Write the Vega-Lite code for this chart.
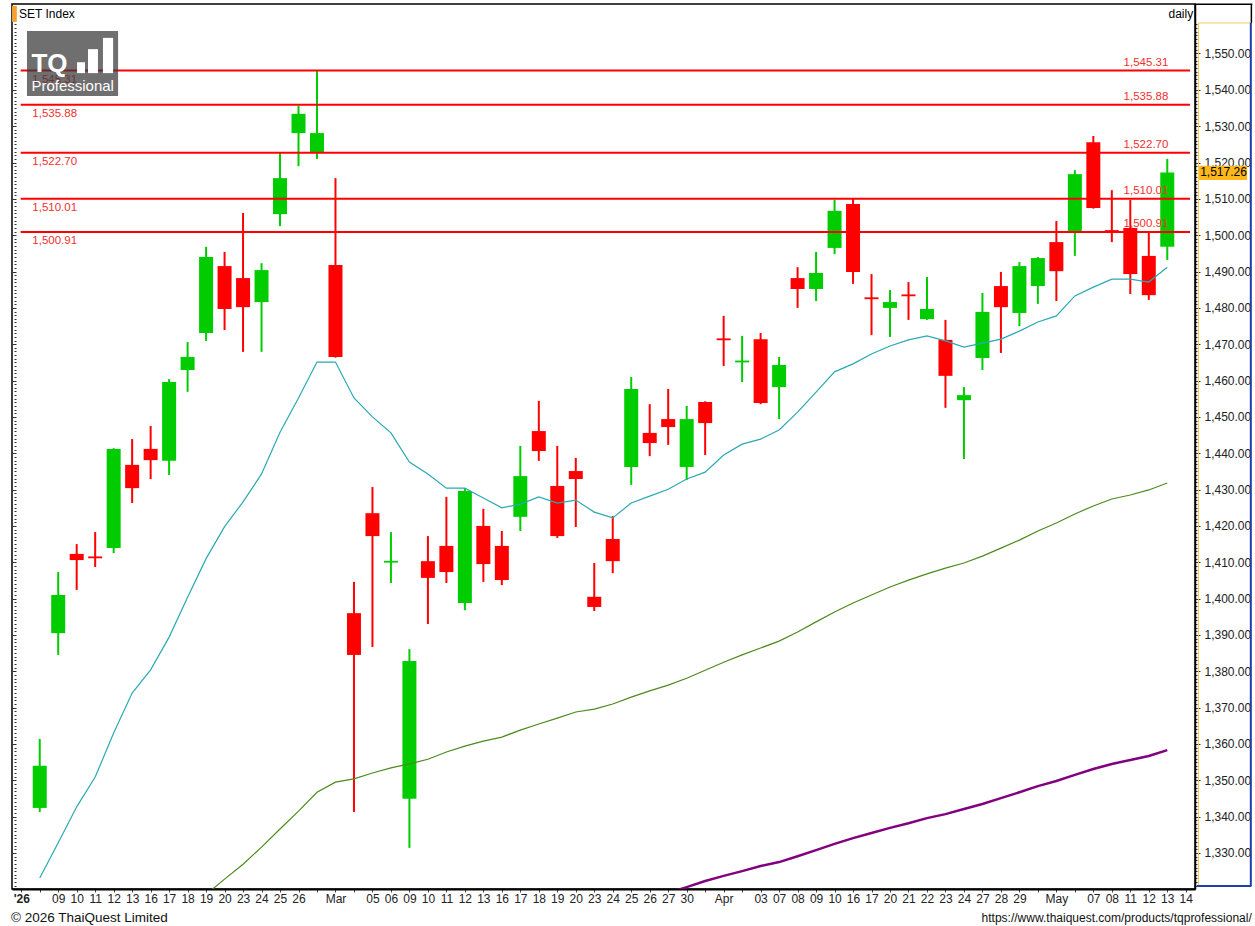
{
"$schema": "https://vega.github.io/schema/vega-lite/v6.json",
"width": 1183, "height": 885, "autosize": "none",
"padding": {"left": 12, "top": 4, "right": 60, "bottom": 37},
"background": "#ffffff",
"config": {"font": "Liberation Sans", "view": {"stroke": "#000000", "strokeWidth": 1.5}},
"datasets": {
"candles": [
{"i":1,"date":"2026-02-06","o":1342.4,"h":1361.4,"l":1341.3,"c":1354.0,"ema":1323.1},
{"i":2,"date":"2026-02-09","o":1390.5,"h":1407.3,"l":1384.5,"c":1401.0,"ema":1332.8},
{"i":3,"date":"2026-02-10","o":1412.3,"h":1415.0,"l":1402.4,"c":1410.6,"ema":1342.7},
{"i":4,"date":"2026-02-11","o":1411.6,"h":1418.3,"l":1408.7,"c":1411.1,"ema":1350.9},
{"i":5,"date":"2026-02-12","o":1413.9,"h":1441.4,"l":1412.5,"c":1441.2,"ema":1363.0},
{"i":6,"date":"2026-02-13","o":1436.8,"h":1443.9,"l":1426.3,"c":1430.4,"ema":1374.0},
{"i":7,"date":"2026-02-16","o":1441.2,"h":1447.5,"l":1432.9,"c":1438.1,"ema":1380.4},
{"i":8,"date":"2026-02-17","o":1437.9,"h":1460.4,"l":1434.0,"c":1459.6,"ema":1389.4},
{"i":9,"date":"2026-02-18","o":1462.9,"h":1470.6,"l":1456.9,"c":1466.5,"ema":1400.4},
{"i":10,"date":"2026-02-19","o":1473.1,"h":1496.8,"l":1470.9,"c":1494.0,"ema":1411.0,"ma50":1318.6},
{"i":11,"date":"2026-02-20","o":1491.5,"h":1495.4,"l":1473.9,"c":1479.7,"ema":1419.8,"ma50":1322.8},
{"i":12,"date":"2026-02-23","o":1488.2,"h":1506.1,"l":1467.9,"c":1480.2,"ema":1426.6,"ma50":1326.9},
{"i":13,"date":"2026-02-24","o":1481.6,"h":1492.3,"l":1467.9,"c":1490.4,"ema":1434.3,"ma50":1331.6},
{"i":14,"date":"2026-02-25","o":1505.8,"h":1522.6,"l":1502.5,"c":1515.7,"ema":1445.8,"ma50":1336.6},
{"i":15,"date":"2026-02-26","o":1528.1,"h":1535.6,"l":1519.0,"c":1533.4,"ema":1455.2,"ma50":1341.5},
{"i":16,"date":"2026-02-27","o":1522.9,"h":1545.3,"l":1521.0,"c":1528.1,"ema":1465.1,"ma50":1346.7},
{"i":17,"date":"2026-03-02","o":1491.8,"h":1515.7,"l":1466.3,"c":1466.5,"ema":1465.1,"ma50":1349.5},
{"i":18,"date":"2026-03-04","o":1396.0,"h":1404.6,"l":1341.3,"c":1384.5,"ema":1455.2,"ma50":1350.4},
{"i":19,"date":"2026-03-05","o":1423.5,"h":1430.7,"l":1386.7,"c":1417.2,"ema":1450.0,"ma50":1352.0},
{"i":20,"date":"2026-03-06","o":1409.9,"h":1418.3,"l":1404.3,"c":1410.4,"ema":1445.6,"ma50":1353.4},
{"i":21,"date":"2026-03-09","o":1344.9,"h":1386.1,"l":1331.4,"c":1382.8,"ema":1437.6,"ma50":1354.5},
{"i":22,"date":"2026-03-10","o":1410.3,"h":1417.2,"l":1393.0,"c":1405.7,"ema":1434.3,"ma50":1355.8},
{"i":23,"date":"2026-03-11","o":1414.5,"h":1428.0,"l":1404.3,"c":1407.3,"ema":1430.4,"ma50":1357.8},
{"i":24,"date":"2026-03-12","o":1398.8,"h":1430.4,"l":1396.8,"c":1429.6,"ema":1430.4,"ma50":1359.4},
{"i":25,"date":"2026-03-13","o":1420.0,"h":1424.7,"l":1404.6,"c":1409.5,"ema":1427.7,"ma50":1360.8},
{"i":26,"date":"2026-03-16","o":1414.5,"h":1418.6,"l":1403.7,"c":1405.1,"ema":1425.0,"ma50":1361.9},
{"i":27,"date":"2026-03-17","o":1422.5,"h":1442.0,"l":1418.6,"c":1433.7,"ema":1426.0,"ma50":1363.8},
{"i":28,"date":"2026-03-18","o":1446.1,"h":1454.4,"l":1437.9,"c":1440.6,"ema":1428.0,"ma50":1365.5},
{"i":29,"date":"2026-03-19","o":1431.0,"h":1442.0,"l":1416.7,"c":1417.2,"ema":1426.3,"ma50":1367.1},
{"i":30,"date":"2026-03-20","o":1435.1,"h":1438.7,"l":1419.7,"c":1432.9,"ema":1427.1,"ma50":1368.8},
{"i":31,"date":"2026-03-23","o":1400.5,"h":1409.8,"l":1396.6,"c":1397.7,"ema":1423.8,"ma50":1369.6},
{"i":32,"date":"2026-03-24","o":1416.4,"h":1422.7,"l":1407.0,"c":1410.3,"ema":1422.2,"ma50":1371.0},
{"i":33,"date":"2026-03-25","o":1436.2,"h":1461.0,"l":1431.3,"c":1457.7,"ema":1426.3,"ma50":1372.9},
{"i":34,"date":"2026-03-26","o":1445.6,"h":1453.5,"l":1439.2,"c":1442.8,"ema":1428.2,"ma50":1374.6},
{"i":35,"date":"2026-03-27","o":1449.4,"h":1457.7,"l":1442.3,"c":1447.2,"ema":1430.1,"ma50":1376.2,"ma200":1319.0},
{"i":36,"date":"2026-03-30","o":1436.2,"h":1453.0,"l":1432.6,"c":1449.4,"ema":1432.9,"ma50":1378.1,"ma200":1320.6},
{"i":37,"date":"2026-03-31","o":1454.1,"h":1454.3,"l":1439.5,"c":1448.3,"ema":1434.8,"ma50":1380.3,"ma200":1322.3},
{"i":38,"date":"2026-04-01","o":1471.6,"h":1477.8,"l":1464.0,"c":1471.1,"ema":1439.5,"ma50":1382.5,"ma200":1323.7},
{"i":39,"date":"2026-04-02","o":1465.0,"h":1472.3,"l":1459.6,"c":1465.5,"ema":1442.5,"ma50":1384.5,"ma200":1325.0},
{"i":40,"date":"2026-04-03","o":1471.4,"h":1473.1,"l":1453.5,"c":1453.8,"ema":1443.9,"ma50":1386.4,"ma200":1326.4},
{"i":41,"date":"2026-04-07","o":1458.2,"h":1466.5,"l":1449.4,"c":1464.3,"ema":1446.4,"ma50":1388.3,"ma200":1327.5},
{"i":42,"date":"2026-04-08","o":1488.2,"h":1491.2,"l":1480.0,"c":1485.2,"ema":1451.3,"ma50":1390.8,"ma200":1329.1},
{"i":43,"date":"2026-04-09","o":1485.2,"h":1495.4,"l":1481.9,"c":1489.6,"ema":1456.8,"ma50":1393.6,"ma200":1330.8},
{"i":44,"date":"2026-04-10","o":1496.5,"h":1509.7,"l":1494.8,"c":1506.7,"ema":1462.4,"ma50":1396.3,"ma200":1332.5},
{"i":45,"date":"2026-04-16","o":1508.6,"h":1510.0,"l":1486.6,"c":1489.9,"ema":1464.6,"ma50":1398.8,"ma200":1334.1},
{"i":46,"date":"2026-04-17","o":1482.9,"h":1489.3,"l":1472.5,"c":1482.4,"ema":1467.3,"ma50":1401.0,"ma200":1335.5},
{"i":47,"date":"2026-04-20","o":1480.0,"h":1484.9,"l":1472.0,"c":1481.6,"ema":1469.5,"ma50":1403.2,"ma200":1336.9},
{"i":48,"date":"2026-04-21","o":1483.7,"h":1487.1,"l":1476.7,"c":1483.2,"ema":1471.2,"ma50":1405.1,"ma200":1338.2},
{"i":49,"date":"2026-04-22","o":1476.9,"h":1488.5,"l":1476.7,"c":1479.7,"ema":1472.3,"ma50":1406.8,"ma200":1339.6},
{"i":50,"date":"2026-04-23","o":1471.2,"h":1476.7,"l":1452.5,"c":1461.3,"ema":1470.9,"ma50":1408.4,"ma200":1340.7},
{"i":51,"date":"2026-04-24","o":1454.6,"h":1458.2,"l":1438.4,"c":1456.0,"ema":1469.2,"ma50":1409.8,"ma200":1342.1},
{"i":52,"date":"2026-04-27","o":1466.2,"h":1484.1,"l":1462.9,"c":1478.9,"ema":1470.3,"ma50":1411.7,"ma200":1343.5},
{"i":53,"date":"2026-04-28","o":1486.0,"h":1489.9,"l":1467.6,"c":1480.2,"ema":1471.4,"ma50":1413.9,"ma200":1345.1},
{"i":54,"date":"2026-04-29","o":1478.6,"h":1492.6,"l":1475.0,"c":1491.5,"ema":1473.6,"ma50":1416.1,"ma200":1346.7},
{"i":55,"date":"2026-04-30","o":1486.0,"h":1494.0,"l":1481.1,"c":1493.7,"ema":1476.1,"ma50":1418.6,"ma200":1348.4},
{"i":56,"date":"2026-05-05","o":1498.1,"h":1503.9,"l":1481.9,"c":1490.1,"ema":1477.8,"ma50":1420.8,"ma200":1349.8},
{"i":57,"date":"2026-05-06","o":1500.9,"h":1517.9,"l":1494.3,"c":1516.8,"ema":1483.3,"ma50":1423.3,"ma200":1351.5},
{"i":58,"date":"2026-05-07","o":1525.6,"h":1527.3,"l":1507.3,"c":1507.5,"ema":1485.7,"ma50":1425.5,"ma200":1353.1},
{"i":59,"date":"2026-05-08","o":1501.4,"h":1512.4,"l":1498.1,"c":1500.9,"ema":1487.9,"ma50":1427.4,"ma200":1354.5},
{"i":60,"date":"2026-05-11","o":1502.0,"h":1509.7,"l":1483.8,"c":1489.3,"ema":1487.9,"ma50":1428.5,"ma200":1355.6},
{"i":61,"date":"2026-05-12","o":1494.3,"h":1500.6,"l":1482.2,"c":1483.5,"ema":1487.1,"ma50":1429.9,"ma200":1356.7},
{"i":62,"date":"2026-05-13","o":1496.8,"h":1521.0,"l":1493.2,"c":1517.26,"ema":1491.2,"ma50":1431.8,"ma200":1358.3}
],
"levels": [{"level":1545.31},{"level":1535.88},{"level":1522.70},{"level":1510.01},{"level":1500.91}]
},
"resolve": {"axis": {"x": "independent", "y": "independent"}},
"layer": [
{"data": {"name": "candles"},
 "mark": {"type": "rule", "strokeWidth": 2},
 "encoding": {
  "x": {"field": "i", "type": "quantitative", "scale": {"domain": [-0.5, 63.5], "nice": false, "zero": false, "padding": 0},
        "axis": {"orient": "bottom", "title": null, "grid": false,
          "values": [0,1,2,3,4,5,6,7,8,9,10,11,12,13,14,15,16,17,18,19,20,21,22,23,24,25,26,27,28,29,30,31,32,33,34,35,36,37,38,39,40,41,42,43,44,45,46,47,48,49,50,51,52,53,54,55,56,57,58,59,60,61,62,63],
          "labelExpr": "datum.value==0?'\\'26':datum.value==2?'09':datum.value==3?'10':datum.value==4?'11':datum.value==5?'12':datum.value==6?'13':datum.value==7?'16':datum.value==8?'17':datum.value==9?'18':datum.value==10?'19':datum.value==11?'20':datum.value==12?'23':datum.value==13?'24':datum.value==14?'25':datum.value==15?'26':datum.value==17?'Mar':datum.value==19?'05':datum.value==20?'06':datum.value==21?'09':datum.value==22?'10':datum.value==23?'11':datum.value==24?'12':datum.value==25?'13':datum.value==26?'16':datum.value==27?'17':datum.value==28?'18':datum.value==29?'19':datum.value==30?'20':datum.value==31?'23':datum.value==32?'24':datum.value==33?'25':datum.value==34?'26':datum.value==35?'27':datum.value==36?'30':datum.value==38?'Apr':datum.value==40?'03':datum.value==41?'07':datum.value==42?'08':datum.value==43?'09':datum.value==44?'10':datum.value==45?'16':datum.value==46?'17':datum.value==47?'20':datum.value==48?'21':datum.value==49?'22':datum.value==50?'23':datum.value==51?'24':datum.value==52?'27':datum.value==53?'28':datum.value==54?'29':datum.value==56?'May':datum.value==58?'07':datum.value==59?'08':datum.value==60?'11':datum.value==61?'12':datum.value==62?'13':datum.value==63?'14':''",
          "labelFontWeight": {"condition": {"test": "datum.value === 0", "value": "bold"}, "value": "normal"},
          "domain": true, "domainColor": "#000000", "domainWidth": 2,
          "ticks": true, "tickColor": "#444444", "tickSize": 3, "tickWidth": 1,
          "labelFontSize": 12, "labelColor": "#222222", "labelPadding": 1,
          "labelOverlap": false, "labelBound": false, "labelFlush": false}},
  "y": {"field": "l", "type": "quantitative", "scale": {"domain": [1320.09, 1563.62], "nice": false, "zero": false, "padding": 0},
        "axis": {"orient": "right", "title": null, "grid": false,
          "values": [1321,1322,1323,1324,1325,1326,1327,1328,1329,1330,1331,1332,1333,1334,1335,1336,1337,1338,1339,1340,1341,1342,1343,1344,1345,1346,1347,1348,1349,1350,1351,1352,1353,1354,1355,1356,1357,1358,1359,1360,1361,1362,1363,1364,1365,1366,1367,1368,1369,1370,1371,1372,1373,1374,1375,1376,1377,1378,1379,1380,1381,1382,1383,1384,1385,1386,1387,1388,1389,1390,1391,1392,1393,1394,1395,1396,1397,1398,1399,1400,1401,1402,1403,1404,1405,1406,1407,1408,1409,1410,1411,1412,1413,1414,1415,1416,1417,1418,1419,1420,1421,1422,1423,1424,1425,1426,1427,1428,1429,1430,1431,1432,1433,1434,1435,1436,1437,1438,1439,1440,1441,1442,1443,1444,1445,1446,1447,1448,1449,1450,1451,1452,1453,1454,1455,1456,1457,1458,1459,1460,1461,1462,1463,1464,1465,1466,1467,1468,1469,1470,1471,1472,1473,1474,1475,1476,1477,1478,1479,1480,1481,1482,1483,1484,1485,1486,1487,1488,1489,1490,1491,1492,1493,1494,1495,1496,1497,1498,1499,1500,1501,1502,1503,1504,1505,1506,1507,1508,1509,1510,1511,1512,1513,1514,1515,1516,1517,1518,1519,1520,1521,1522,1523,1524,1525,1526,1527,1528,1529,1530,1531,1532,1533,1534,1535,1536,1537,1538,1539,1540,1541,1542,1543,1544,1545,1546,1547,1548,1549,1550,1551,1552,1553,1554,1555,1556,1557,1558],
          "labelExpr": "datum.value % 10 === 0 ? format(datum.value, ',.2f') : ''",
          "tickSize": {"condition": {"test": "datum.value % 10 === 0", "value": 5}, "value": 2},
          "tickColor": "#333333", "tickWidth": 1,
          "domain": true, "domainColor": "#000000", "domainWidth": 1.5,
          "labelFontSize": 12, "labelColor": "#222222", "labelPadding": 4,
          "labelOverlap": false, "labelBound": false, "labelFlush": false}},
  "y2": {"field": "h"},
  "color": {"condition": {"test": "datum.c >= datum.o", "value": "#00CC00"}, "value": "#FF0000"}
 }},
{"data": {"name": "candles"},
 "mark": {"type": "bar", "size": 14},
 "encoding": {
  "x": {"field": "i", "type": "quantitative", "axis": null},
  "y": {"field": "o", "type": "quantitative",
        "axis": {"orient": "left", "title": null, "grid": false, "labels": false, "domain": false, "offset": -4,
          "values": [1321,1322,1323,1324,1325,1326,1327,1328,1329,1330,1331,1332,1333,1334,1335,1336,1337,1338,1339,1340,1341,1342,1343,1344,1345,1346,1347,1348,1349,1350,1351,1352,1353,1354,1355,1356,1357,1358,1359,1360,1361,1362,1363,1364,1365,1366,1367,1368,1369,1370,1371,1372,1373,1374,1375,1376,1377,1378,1379,1380,1381,1382,1383,1384,1385,1386,1387,1388,1389,1390,1391,1392,1393,1394,1395,1396,1397,1398,1399,1400,1401,1402,1403,1404,1405,1406,1407,1408,1409,1410,1411,1412,1413,1414,1415,1416,1417,1418,1419,1420,1421,1422,1423,1424,1425,1426,1427,1428,1429,1430,1431,1432,1433,1434,1435,1436,1437,1438,1439,1440,1441,1442,1443,1444,1445,1446,1447,1448,1449,1450,1451,1452,1453,1454,1455,1456,1457,1458,1459,1460,1461,1462,1463,1464,1465,1466,1467,1468,1469,1470,1471,1472,1473,1474,1475,1476,1477,1478,1479,1480,1481,1482,1483,1484,1485,1486,1487,1488,1489,1490,1491,1492,1493,1494,1495,1496,1497,1498,1499,1500,1501,1502,1503,1504,1505,1506,1507,1508,1509,1510,1511,1512,1513,1514,1515,1516,1517,1518,1519,1520,1521,1522,1523,1524,1525,1526,1527,1528,1529,1530,1531,1532,1533,1534,1535,1536,1537,1538,1539,1540,1541,1542,1543,1544,1545,1546,1547,1548,1549,1550,1551,1552,1553,1554,1555,1556,1557,1558],
          "tickSize": {"condition": {"test": "datum.value % 10 === 0", "value": 4}, "value": 2},
          "tickColor": "#333333", "tickWidth": 1}},
  "y2": {"field": "c"},
  "color": {"condition": {"test": "datum.c >= datum.o", "value": "#00CC00"}, "value": "#FF0000"}
 }},
{"data": {"name": "candles"},
 "mark": {"type": "line", "color": "#2AA9B3", "strokeWidth": 1.2, "clip": true},
 "encoding": {"x": {"field": "i", "type": "quantitative", "axis": null}, "y": {"field": "ema", "type": "quantitative", "axis": null}}},
{"data": {"name": "candles"},
 "mark": {"type": "line", "color": "#4E8A1E", "strokeWidth": 1.2, "clip": true},
 "encoding": {"x": {"field": "i", "type": "quantitative", "axis": null}, "y": {"field": "ma50", "type": "quantitative", "axis": null}}},
{"data": {"name": "candles"},
 "mark": {"type": "line", "color": "#800080", "strokeWidth": 2.5, "clip": true},
 "encoding": {"x": {"field": "i", "type": "quantitative", "axis": null}, "y": {"field": "ma200", "type": "quantitative", "axis": null}}},
{"data": {"name": "levels"},
 "mark": {"type": "rule", "color": "#FF0000", "strokeWidth": 2},
 "encoding": {"x": {"datum": -0.03, "type": "quantitative", "axis": null}, "x2": {"datum": 63.23},
   "y": {"field": "level", "type": "quantitative", "axis": null}}},
{"data": {"name": "levels"},
 "mark": {"type": "text", "align": "left", "baseline": "middle", "dy": 9, "fontSize": 11.5, "color": "#F03030"},
 "encoding": {"x": {"datum": 0.6, "type": "quantitative", "axis": null},
   "y": {"field": "level", "type": "quantitative", "axis": null},
   "text": {"field": "level", "type": "quantitative", "format": ",.2f"}}},
{"data": {"name": "levels"},
 "mark": {"type": "text", "align": "right", "baseline": "middle", "dy": -8, "fontSize": 11.5, "color": "#F03030"},
 "encoding": {"x": {"datum": 62.06, "type": "quantitative", "axis": null},
   "y": {"field": "level", "type": "quantitative", "axis": null},
   "text": {"field": "level", "type": "quantitative", "format": ",.2f"}}},
{"data": {"values": [{}]},
 "mark": {"type": "rect", "color": "#383838", "opacity": 0.72},
 "encoding": {"x": {"datum": 0.31, "type": "quantitative", "axis": null}, "x2": {"datum": 5.24},
   "y": {"datum": 1556.19, "type": "quantitative", "axis": null}, "y2": {"datum": 1538.3}}},
{"data": {"values": [{}]},
 "mark": {"type": "rect", "color": "#ffffff"},
 "encoding": {"x": {"datum": 3.02, "type": "quantitative", "axis": null}, "x2": {"datum": 3.45},
   "y": {"datum": 1547.6, "type": "quantitative", "axis": null}, "y2": {"datum": 1544.6}}},
{"data": {"values": [{}]},
 "mark": {"type": "rect", "color": "#ffffff"},
 "encoding": {"x": {"datum": 3.61, "type": "quantitative", "axis": null}, "x2": {"datum": 4.15},
   "y": {"datum": 1551.2, "type": "quantitative", "axis": null}, "y2": {"datum": 1544.6}}},
{"data": {"values": [{}]},
 "mark": {"type": "rect", "color": "#ffffff"},
 "encoding": {"x": {"datum": 4.42, "type": "quantitative", "axis": null}, "x2": {"datum": 4.97},
   "y": {"datum": 1554.3, "type": "quantitative", "axis": null}, "y2": {"datum": 1544.6}}},
{"data": {"values": [{}]},
 "mark": {"type": "text", "align": "left", "baseline": "alphabetic", "fontSize": 26, "fontWeight": "bold", "color": "#ffffff"},
 "encoding": {"x": {"datum": 0.55, "type": "quantitative", "axis": null},
   "y": {"datum": 1544.9, "type": "quantitative", "axis": null}, "text": {"value": "TQ"}}},
{"data": {"values": [{}]},
 "mark": {"type": "text", "align": "left", "baseline": "alphabetic", "fontSize": 15, "color": "#ffffff"},
 "encoding": {"x": {"datum": 0.55, "type": "quantitative", "axis": null},
   "y": {"datum": 1539.7, "type": "quantitative", "axis": null}, "text": {"value": "Professional"}}},
{"data": {"values": [{}]},
 "mark": {"type": "rect", "color": "#FFB81C"},
 "encoding": {"x": {"datum": 63.72, "type": "quantitative", "axis": null}, "x2": {"datum": 66.32},
   "y": {"datum": 1519.1, "type": "quantitative", "axis": null}, "y2": {"datum": 1515.2}}},
{"data": {"values": [{}]},
 "mark": {"type": "text", "align": "left", "baseline": "middle", "fontSize": 12, "color": "#000000"},
 "encoding": {"x": {"datum": 63.78, "type": "quantitative", "axis": null},
   "y": {"datum": 1517.26, "type": "quantitative", "axis": null}, "text": {"value": "1,517.26"}}},
{"data": {"values": [{}]},
 "mark": {"type": "rect", "color": "#F5A030"},
 "encoding": {"x": {"datum": -0.5, "type": "quantitative", "axis": null}, "x2": {"datum": -0.24},
   "y": {"datum": 1563.1, "type": "quantitative", "axis": null}, "y2": {"datum": 1558.7}}},
{"data": {"values": [{}]},
 "mark": {"type": "text", "align": "left", "baseline": "middle", "fontSize": 12, "color": "#000000"},
 "encoding": {"x": {"datum": -0.12, "type": "quantitative", "axis": null},
   "y": {"datum": 1561.0, "type": "quantitative", "axis": null}, "text": {"value": "SET Index"}}},
{"data": {"values": [{}]},
 "mark": {"type": "text", "align": "right", "baseline": "middle", "fontSize": 12, "color": "#000000"},
 "encoding": {"x": {"datum": 63.4, "type": "quantitative", "axis": null},
   "y": {"datum": 1560.9, "type": "quantitative", "axis": null}, "text": {"value": "daily"}}},
{"data": {"values": [{}]},
 "mark": {"type": "text", "align": "left", "baseline": "middle", "fontSize": 13.5, "color": "#111111"},
 "encoding": {"x": {"datum": -0.55, "type": "quantitative", "axis": null},
   "y": {"datum": 1312.1, "type": "quantitative", "axis": null}, "text": {"value": "© 2026 ThaiQuest Limited"}}},
{"data": {"values": [{}]},
 "mark": {"type": "text", "align": "right", "baseline": "middle", "fontSize": 12, "color": "#111111"},
 "encoding": {"x": {"datum": 66.57, "type": "quantitative", "axis": null},
   "y": {"datum": 1312.2, "type": "quantitative", "axis": null}, "text": {"value": "https://www.thaiquest.com/products/tqprofessional/"}}},
{"data": {"values": [{}]},
 "mark": {"type": "rule", "color": "#F2CC55", "strokeWidth": 1},
 "encoding": {"x": {"datum": 63.69, "type": "quantitative", "axis": null},
   "y": {"datum": 1558.4, "type": "quantitative", "axis": null}, "y2": {"datum": 1320.9}}},
{"data": {"values": [{}]},
 "mark": {"type": "rule", "color": "#F2CC55", "strokeWidth": 1},
 "encoding": {"x": {"datum": 63.69, "type": "quantitative", "axis": null}, "x2": {"datum": 66.52},
   "y": {"datum": 1558.4, "type": "quantitative", "axis": null}}},
{"data": {"values": [{}]},
 "mark": {"type": "rule", "color": "#1F3FA8", "strokeWidth": 2},
 "encoding": {"x": {"datum": 66.52, "type": "quantitative", "axis": null},
   "y": {"datum": 1558.4, "type": "quantitative", "axis": null}, "y2": {"datum": 1320.9}}},
{"data": {"values": [{}]},
 "mark": {"type": "rule", "color": "#1F3FA8", "strokeWidth": 2},
 "encoding": {"x": {"datum": 63.6, "type": "quantitative", "axis": null}, "x2": {"datum": 66.55},
   "y": {"datum": 1320.9, "type": "quantitative", "axis": null}}},
{"data": {"values": [{}]},
 "mark": {"type": "rule", "color": "#000000", "strokeWidth": 1.5},
 "encoding": {"x": {"datum": 63.5, "type": "quantitative", "axis": null}, "x2": {"datum": 66.6},
   "y": {"datum": 1563.55, "type": "quantitative", "axis": null}}},
{"data": {"values": [{}]},
 "mark": {"type": "rule", "color": "#000000", "strokeWidth": 1.5},
 "encoding": {"x": {"datum": 66.55, "type": "quantitative", "axis": null},
   "y": {"datum": 1563.6, "type": "quantitative", "axis": null}, "y2": {"datum": 1558.4}}}
]
}
